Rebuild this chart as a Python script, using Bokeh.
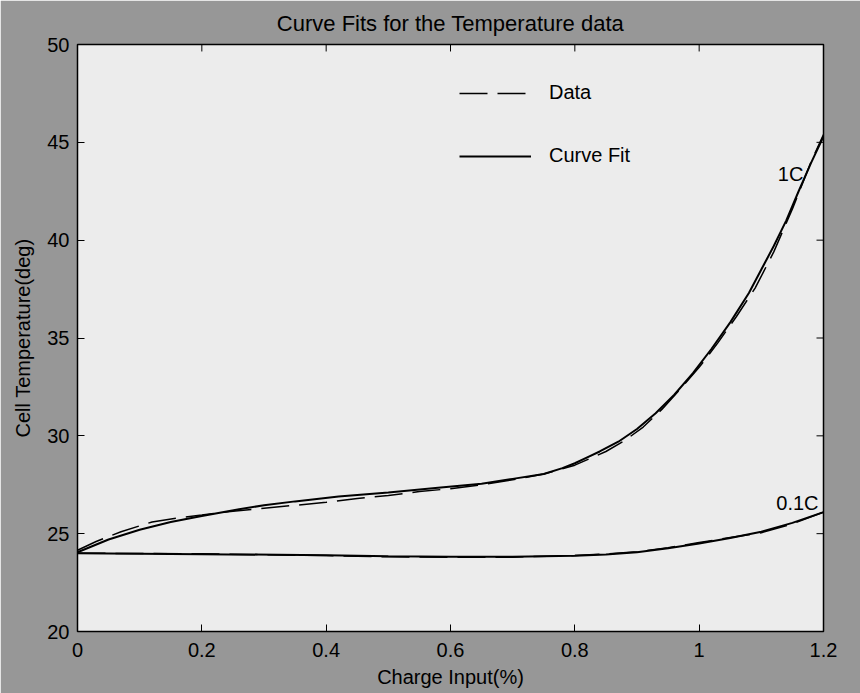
from bokeh.plotting import figure
from bokeh.models import Range1d, FixedTicker, Legend, LegendItem, Label
from bokeh.embed import file_html
from bokeh.resources import INLINE

# ---- data ----
x_fit_1c = [0, 0.05, 0.1, 0.15, 0.2, 0.26, 0.3, 0.35, 0.42, 0.5, 0.58, 0.65, 0.7, 0.75, 0.78,
            0.8, 0.82, 0.84, 0.87, 0.9, 0.93, 0.96, 0.99, 1.02, 1.05, 1.08, 1.1, 1.12, 1.14,
            1.16, 1.18, 1.2]
y_fit_1c = [24.05, 24.7, 25.2, 25.6, 25.9, 26.25, 26.45, 26.65, 26.9, 27.1, 27.35, 27.55, 27.8, 28.05, 28.35,
            28.6, 28.9, 29.2, 29.7, 30.35, 31.15, 32.1, 33.2, 34.45, 35.8, 37.3, 38.5, 39.7, 41.0,
            42.5, 43.95, 45.3]

x_data_1c = [0, 0.03, 0.07, 0.12, 0.16, 0.2, 0.25, 0.3, 0.35, 0.4, 0.45, 0.5, 0.55, 0.6, 0.65,
             0.7, 0.75, 0.8, 0.85, 0.88, 0.91, 0.94, 0.97, 1.0, 1.03, 1.06, 1.09, 1.12, 1.15,
             1.18, 1.2]
y_data_1c = [24.15, 24.6, 25.1, 25.6, 25.8, 25.95, 26.15, 26.3, 26.45, 26.6, 26.8, 26.95, 27.15, 27.3, 27.5,
             27.75, 28.05, 28.5, 29.2, 29.75, 30.45, 31.35, 32.4, 33.5, 34.75, 36.1, 37.55, 39.4, 41.6,
             44.0, 45.4]

x_fit_01c = [0, 0.2, 0.4, 0.5, 0.6, 0.7, 0.8, 0.85, 0.9, 0.95, 1.0, 1.05, 1.1, 1.15, 1.2]
y_fit_01c = [24.0, 23.95, 23.9, 23.85, 23.82, 23.82, 23.87, 23.94, 24.05, 24.25, 24.5, 24.78, 25.1, 25.55, 26.1]
x_data_01c = [0, 0.2, 0.4, 0.5, 0.6, 0.7, 0.8, 0.85, 0.9, 0.95, 1.0, 1.05, 1.1, 1.15, 1.2]
y_data_01c = [24.0, 23.97, 23.88, 23.82, 23.8, 23.8, 23.88, 23.96, 24.08, 24.28, 24.55, 24.8, 25.05, 25.5, 26.1]

x_ticks = [0, 0.2, 0.4, 0.6, 0.8, 1.0, 1.2]
x_tick_labels = ["0", "0.2", "0.4", "0.6", "0.8", "1", "1.2"]
y_ticks = [20, 25, 30, 35, 40, 45, 50]

label_1c = ("1C", 1.147, 43.4)
label_01c = ("0.1C", 1.158, 26.55)

FONT = "Liberation Sans"
BG = "#979797"
X0, X1, Y0, Y1 = 0, 1.2, 20, 50
W, H = 860, 693
ML, MR, MT, MB = 77, 37, 42, 62
TICK = 7  # px

p = figure(width=W, height=H, output_backend="svg", toolbar_location=None,
           x_range=Range1d(X0, X1), y_range=Range1d(Y0, Y1),
           min_border_left=ML, min_border_right=MR, min_border_top=MT, min_border_bottom=MB,
           background_fill_color="#ececec", border_fill_color=BG,
           outline_line_color="black", outline_line_width=1.5)

p.title.text = "Curve Fits for the Temperature data"
p.title.align = "center"
p.title.text_font = FONT
p.title.text_font_size = "22px"
p.title.text_font_style = "normal"
p.title.text_color = "black"
p.title.standoff = 17

p.grid.visible = False

for ax in (p.xaxis[0], p.yaxis[0]):
    ax.major_label_text_font = FONT
    ax.major_label_text_font_size = "20px"
    ax.major_label_text_color = "black"
    ax.axis_label_text_font = FONT
    ax.axis_label_text_font_size = "20px"
    ax.axis_label_text_font_style = "normal"
    ax.axis_label_text_color = "black"
    ax.major_tick_in = TICK
    ax.major_tick_out = 0
    ax.minor_tick_in = 0
    ax.minor_tick_out = 0
    ax.axis_line_color = "black"
    ax.major_tick_line_color = "black"

p.xaxis[0].ticker = FixedTicker(ticks=x_ticks)
p.xaxis[0].major_label_overrides = {t: l for t, l in zip(x_ticks, x_tick_labels)}
p.xaxis[0].axis_label = "Charge Input(%)"
p.xaxis[0].major_label_standoff = 11
p.xaxis[0].axis_label_standoff = 6
p.yaxis[0].ticker = FixedTicker(ticks=y_ticks)
p.yaxis[0].axis_label = "Cell Temperature(deg)"
p.yaxis[0].major_label_standoff = 8
p.yaxis[0].axis_label_standoff = 10

# inward ticks on the top and right edges (MATLAB box style)
frame_w = W - ML - MR
frame_h = H - MT - MB
dx = TICK * (X1 - X0) / frame_w
dy = TICK * (Y1 - Y0) / frame_h
p.segment(x0=x_ticks, y0=[Y1] * len(x_ticks), x1=x_ticks, y1=[Y1 - dy] * len(x_ticks),
          line_color="black", line_width=1)
p.segment(x0=[X1] * len(y_ticks), y0=y_ticks, x1=[X1 - dx] * len(y_ticks), y1=y_ticks,
          line_color="black", line_width=1)

r_data = p.line(x_data_1c, y_data_1c, line_color="black", line_width=1.5, line_dash="28 10")
r_fit = p.line(x_fit_1c, y_fit_1c, line_color="black", line_width=2)
p.line(x_data_01c, y_data_01c, line_color="black", line_width=1.5, line_dash="28 10")
p.line(x_fit_01c, y_fit_01c, line_color="black", line_width=2)

for txt, lx, ly in (label_1c, label_01c):
    p.add_layout(Label(x=lx, y=ly, text=txt, text_font=FONT, text_font_size="20px",
                       text_align="center", text_baseline="middle", text_color="black"))

legend = Legend(items=[LegendItem(label="Data", renderers=[r_data]),
                       LegendItem(label="Curve Fit", renderers=[r_fit])],
                location=(382, 464), orientation="vertical",
                glyph_width=72, glyph_height=20, label_height=20, label_standoff=18,
                spacing=40, padding=0, margin=0,
                border_line_alpha=0, background_fill_alpha=0,
                label_text_font=FONT, label_text_font_size="20px", label_text_color="black")
p.add_layout(legend, "center")

open("out.html", "w").write(file_html(p, INLINE))
